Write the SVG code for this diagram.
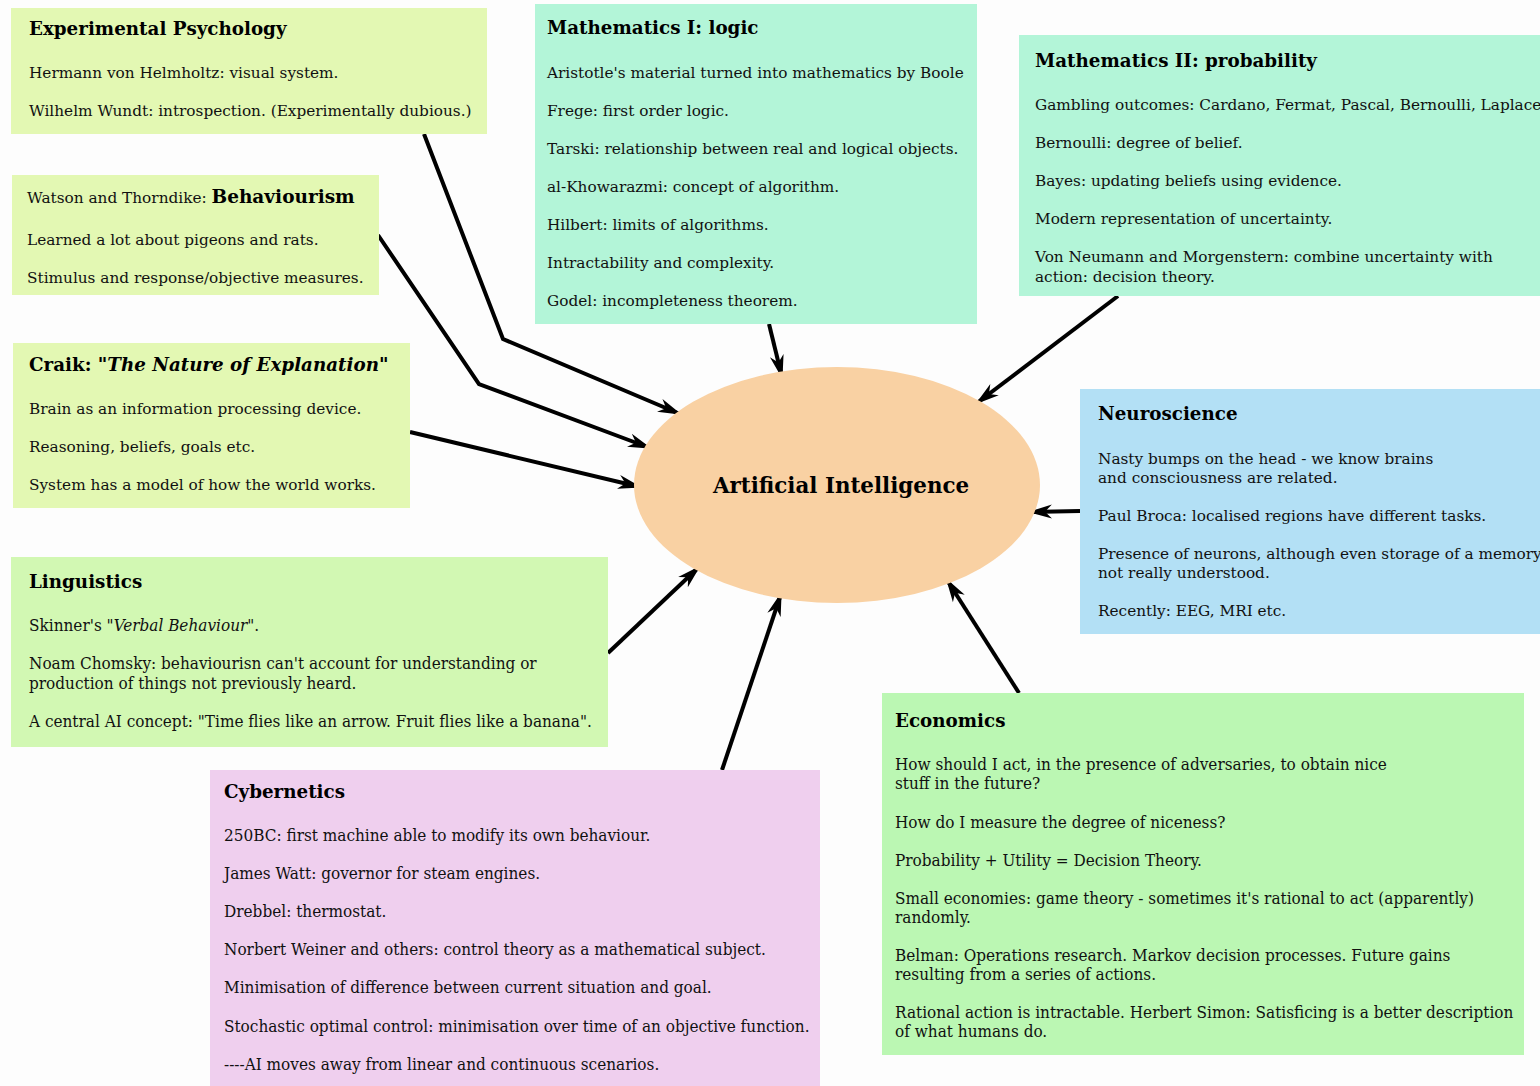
<svg xmlns="http://www.w3.org/2000/svg" width="1540" height="1086" viewBox="0 0 1540 1086">
<defs>
<style>
text{font-family:"DejaVu Serif","Liberation Serif",serif;font-size:15.3px;fill:#111}
.t{font-weight:bold;font-size:18.3px;fill:#000}
.c{font-family:"DejaVu Serif Condensed","DejaVu Serif",serif;font-stretch:condensed;font-size:17px}
.ai{font-weight:bold;font-size:21.4px;fill:#000}
.con{fill:none;stroke:#000;stroke-width:4;stroke-linejoin:miter}
</style>
<marker id="ah" markerUnits="userSpaceOnUse" markerWidth="24" markerHeight="16" refX="22" refY="8" orient="auto" viewBox="0 0 24 16">
<path d="M0,1 L24,8 L0,15 L7,8 z" fill="#000"/>
</marker>
</defs>
<rect width="1540" height="1086" fill="#fdfdfd"/>
<g id="connectors">
<polyline class="con" points="424,134 503,339 680,414" marker-end="url(#ah)"/>
<polyline class="con" points="378,235 479,384 650,448" marker-end="url(#ah)"/>
<line class="con" x1="410" y1="432" x2="640" y2="487" marker-end="url(#ah)"/>
<line class="con" x1="769" y1="324" x2="782" y2="377" marker-end="url(#ah)"/>
<line class="con" x1="1118" y1="296" x2="977" y2="403" marker-end="url(#ah)"/>
<line class="con" x1="1080" y1="511" x2="1030" y2="512" marker-end="url(#ah)"/>
<line class="con" x1="608" y1="653" x2="699" y2="567" marker-end="url(#ah)"/>
<line class="con" x1="722" y1="770" x2="781" y2="594" marker-end="url(#ah)"/>
<line class="con" x1="1019" y1="693" x2="947" y2="580" marker-end="url(#ah)"/>
</g>
<g id="ai">
<ellipse cx="837" cy="485" rx="203" ry="118" fill="#f9d1a3"/>
<text class="ai" x="841" y="493" text-anchor="middle">Artificial Intelligence</text>
</g>
<g id="exp-psych">
<rect x="11" y="8" width="476" height="126" fill="#e3f8b3"/>
<text class="t" x="29" y="35">Experimental Psychology</text>
<text x="29" y="78">Hermann von Helmholtz: visual system.</text>
<text x="29" y="116">Wilhelm Wundt: introspection. (Experimentally dubious.)</text>
</g>
<g id="behaviourism">
<rect x="12" y="175" width="367" height="120" fill="#e3f8b3"/>
<text x="27" y="203">Watson and Thorndike: <tspan font-weight="bold" font-size="18.5" fill="#000">Behaviourism</tspan></text>
<text x="27" y="245">Learned a lot about pigeons and rats.</text>
<text x="27" y="283">Stimulus and response/objective measures.</text>
</g>
<g id="craik">
<rect x="13" y="343" width="397" height="165" fill="#e3f8b3"/>
<text class="t" x="29" y="371">Craik: "<tspan font-style="italic">The Nature of Explanation</tspan>"</text>
<text x="29" y="414">Brain as an information processing device.</text>
<text x="29" y="452">Reasoning, beliefs, goals etc.</text>
<text x="29" y="490">System has a model of how the world works.</text>
</g>
<g id="math1">
<rect x="535" y="4" width="442" height="320" fill="#b3f5d8"/>
<text class="t" x="547" y="34">Mathematics I: logic</text>
<text x="547" y="78">Aristotle's material turned into mathematics by Boole</text>
<text x="547" y="116">Frege: first order logic.</text>
<text x="547" y="154">Tarski: relationship between real and logical objects.</text>
<text x="547" y="192">al-Khowarazmi: concept of algorithm.</text>
<text x="547" y="230">Hilbert: limits of algorithms.</text>
<text x="547" y="268">Intractability and complexity.</text>
<text x="547" y="306">Godel: incompleteness theorem.</text>
</g>
<g id="math2">
<rect x="1019" y="35" width="521" height="261" fill="#b3f5d8"/>
<text class="t" x="1035" y="67">Mathematics II: probability</text>
<text x="1035" y="110">Gambling outcomes: Cardano, Fermat, Pascal, Bernoulli, Laplace</text>
<text x="1035" y="148">Bernoulli: degree of belief.</text>
<text x="1035" y="186">Bayes: updating beliefs using evidence.</text>
<text x="1035" y="224">Modern representation of uncertainty.</text>
<text x="1035" y="262">Von Neumann and Morgenstern: combine uncertainty with</text>
<text x="1035" y="282">action: decision theory.</text>
</g>
<g id="neuroscience">
<rect x="1080" y="389" width="460" height="245" fill="#b3e0f5"/>
<text class="t" x="1098" y="420">Neuroscience</text>
<text x="1098" y="464">Nasty bumps on the head - we know brains</text>
<text x="1098" y="483">and consciousness are related.</text>
<text x="1098" y="521">Paul Broca: localised regions have different tasks.</text>
<text x="1098" y="559">Presence of neurons, although even storage of a memory</text>
<text x="1098" y="578">not really understood.</text>
<text x="1098" y="616">Recently: EEG, MRI etc.</text>
</g>
<g id="linguistics">
<rect x="11" y="557" width="597" height="190" fill="#d2f8b3"/>
<text class="t" x="29" y="588">Linguistics</text>
<text class="c" x="29" y="631">Skinner's "<tspan font-style="italic">Verbal Behaviour</tspan>".</text>
<text class="c" x="29" y="669">Noam Chomsky: behaviourisn can't account for understanding or</text>
<text class="c" x="29" y="689">production of things not previously heard.</text>
<text class="c" x="29" y="727">A central AI concept: "Time flies like an arrow. Fruit flies like a banana".</text>
</g>
<g id="cybernetics">
<rect x="210" y="770" width="610" height="316" fill="#efcfee"/>
<text class="t" x="224" y="798">Cybernetics</text>
<text class="c" x="224" y="841">250BC: first machine able to modify its own behaviour.</text>
<text class="c" x="224" y="879">James Watt: governor for steam engines.</text>
<text class="c" x="224" y="917">Drebbel: thermostat.</text>
<text class="c" x="224" y="955">Norbert Weiner and others: control theory as a mathematical subject.</text>
<text class="c" x="224" y="993">Minimisation of difference between current situation and goal.</text>
<text class="c" x="224" y="1032">Stochastic optimal control: minimisation over time of an objective function.</text>
<text class="c" x="224" y="1070">----AI moves away from linear and continuous scenarios.</text>
</g>
<g id="economics">
<rect x="882" y="693" width="642" height="362" fill="#bbf7b3"/>
<text class="t" x="895" y="727">Economics</text>
<text class="c" x="895" y="770">How should I act, in the presence of adversaries, to obtain nice</text>
<text class="c" x="895" y="789">stuff in the future?</text>
<text class="c" x="895" y="828">How do I measure the degree of niceness?</text>
<text class="c" x="895" y="866">Probability + Utility = Decision Theory.</text>
<text class="c" x="895" y="904">Small economies: game theory - sometimes it's rational to act (apparently)</text>
<text class="c" x="895" y="923">randomly.</text>
<text class="c" x="895" y="961">Belman: Operations research. Markov decision processes. Future gains</text>
<text class="c" x="895" y="980">resulting from a series of actions.</text>
<text class="c" x="895" y="1018">Rational action is intractable. Herbert Simon: Satisficing is a better description</text>
<text class="c" x="895" y="1037">of what humans do.</text>
</g>
</svg>
